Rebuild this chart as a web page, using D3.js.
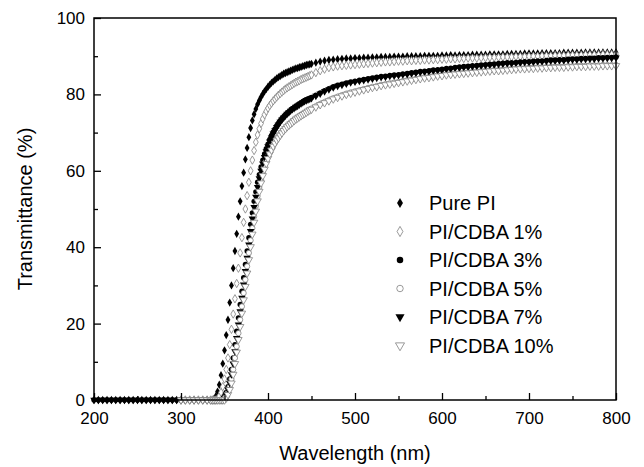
<!DOCTYPE html>
<html>
<head>
<meta charset="utf-8">
<script src="https://cdn.jsdelivr.net/npm/d3@7"></script>
<style>
  body { margin: 0; background: #fff; }
  text { font-family: "Liberation Sans", Arial, sans-serif; fill: #000; }
</style>
</head>
<body>
<svg id="chart" width="644" height="467"></svg>
<script>
// wavelength grids (nm)
const wlBase = d3.range(200, 331, 5);     // flat zero stretch, filled series
const wlBaseOpen = d3.range(300, 331, 5); // open series start at 300 nm
const wlRise = d3.range(334, 451, 2);     // absorption edge
const wlTail = d3.range(455, 801, 5);     // plateau

const baseFilled = [0, 0, 0, 0, 0, 0, 0, 0, 0, 0, 0, 0, 0, 0, 0, 0, 0, 0, 0, 0, 0, 0, 0, 0, 0, 0, 0];
const baseOpen = [0, 0, 0, 0, 0, 0, 0];

// transmittance (%)
const purePI = {
  rise: [0, 0, 0.3, 1, 2.2, 4, 6.5, 9.5, 13, 17,
    21, 25.5, 30, 34.5, 39, 43.5, 48, 52, 56, 59.5,
    63, 66, 68.8, 71.2, 73.2, 74.8, 76.2, 77.4, 78.4, 79.3,
    80.1, 80.8, 81.4, 82, 82.5, 83, 83.4, 83.8, 84.2, 84.5,
    84.8, 85.1, 85.4, 85.6, 85.8, 86, 86.2, 86.4, 86.6, 86.8,
    86.9, 87.1, 87.2, 87.4, 87.5, 87.7, 87.8, 87.9, 88],
  tail: [88.3, 88.6, 88.8, 89, 89.1, 89.2, 89.3, 89.4, 89.4, 89.5,
    89.5, 89.6, 89.6, 89.7, 89.7, 89.8, 89.8, 89.8, 89.9, 89.9,
    89.9, 90, 90, 90, 90, 90.1, 90.1, 90.1, 90.1, 90.2,
    90.2, 90.3, 90.2, 90.3, 90.3, 90.3, 90.4, 90.4, 90.4, 90.4,
    90.5, 90.5, 90.5, 90.5, 90.6, 90.6, 90.6, 90.6, 90.7, 90.7,
    90.7, 90.7, 90.8, 90.8, 90.8, 90.8, 90.8, 90.9, 90.9, 90.9,
    90.9, 90.9, 91, 91, 91, 91, 91, 91, 91, 91],
};
const cdba1 = {
  rise: [0, 0, 0, 0, 0.3, 1, 2, 3.5, 5.5, 8,
    11, 14.5, 18.5, 22.5, 26.5, 30.5, 34.5, 38.5, 42.5, 46.5,
    50, 53.5, 57, 60, 62.8, 65.3, 67.5, 69.4, 71, 72.4,
    73.6, 74.7, 75.6, 76.4, 77.1, 77.7, 78.3, 78.8, 79.3, 79.8,
    80.2, 80.6, 81, 81.4, 81.7, 82, 82.3, 82.6, 82.9, 83.2,
    83.4, 83.6, 83.9, 84.1, 84.3, 84.5, 84.7, 84.9, 85.1],
  tail: [85.7, 86.2, 86.6, 87, 87.2, 87.4, 87.5, 87.6, 87.7, 87.8,
    87.9, 88, 88.1, 88.2, 88.3, 88.4, 88.5, 88.5, 88.6, 88.7,
    88.7, 88.8, 88.8, 88.9, 88.9, 89, 89, 89.1, 89.1, 89.2,
    89.2, 89.3, 89.3, 89.4, 89.4, 89.5, 89.5, 89.5, 89.6, 89.6,
    89.7, 89.7, 89.7, 89.8, 89.8, 89.8, 89.9, 89.9, 89.9, 90,
    90, 90, 90.1, 90.1, 90.1, 90.2, 90.2, 90.2, 90.3, 90.3,
    90.3, 90.3, 90.4, 90.4, 90.4, 90.4, 90.5, 90.5, 90.5, 90.5],
};
const cdba3 = {
  rise: [0, 0, 0, 0, 0, 0, 0, 0.3, 1, 2,
    3.5, 5.5, 8, 11, 14.5, 18, 21.5, 25, 28.5, 32,
    35.5, 39, 42.5, 46, 49, 52, 54.5, 57, 59, 61,
    62.8, 64.4, 65.8, 67, 68.2, 69.3, 70.2, 71, 71.8, 72.5,
    73.1, 73.7, 74.2, 74.7, 75.1, 75.5, 75.9, 76.3, 76.6, 76.9,
    77.2, 77.5, 77.8, 78.1, 78.4, 78.6, 78.8, 79, 79.2],
  tail: [79.8, 80.4, 81, 81.5, 82, 82.4, 82.7, 83, 83.3, 83.5,
    83.7, 83.9, 84.1, 84.3, 84.5, 84.7, 84.8, 85, 85.1, 85.2,
    85.4, 85.5, 85.7, 85.8, 86, 86.1, 86.2, 86.4, 86.5, 86.6,
    86.8, 86.9, 87.1, 87.2, 87.3, 87.4, 87.5, 87.6, 87.7, 87.8,
    87.9, 88, 88.1, 88.2, 88.3, 88.3, 88.4, 88.5, 88.6, 88.6,
    88.7, 88.8, 88.8, 88.9, 89, 89, 89.1, 89.1, 89.2, 89.3,
    89.3, 89.4, 89.4, 89.5, 89.5, 89.6, 89.6, 89.7, 89.7, 89.8],
};
const cdba5 = {
  rise: [0, 0, 0, 0, 0, 0, 0, 0, 0.3, 1,
    2, 3.5, 5.5, 8, 11, 14, 17.5, 21, 24.5, 28,
    31.5, 35, 38.5, 41.8, 45, 48, 50.8, 53.4, 55.8, 57.8,
    59.6, 61.2, 62.6, 63.8, 64.9, 65.9, 66.8, 67.6, 68.3, 69,
    69.6, 70.2, 70.7, 71.2, 71.7, 72.1, 72.5, 72.9, 73.3, 73.6,
    73.9, 74.2, 74.5, 74.8, 75.1, 75.4, 75.7, 76, 76.3],
  tail: [76.9, 77.5, 78, 78.5, 79, 79.4, 79.8, 80.2, 80.5, 80.8,
    81.1, 81.4, 81.7, 82, 82.2, 82.5, 82.7, 82.9, 83.1, 83.3,
    83.5, 83.7, 83.9, 84.1, 84.3, 84.5, 84.6, 84.8, 85, 85.1,
    85.3, 85.4, 85.5, 85.6, 85.7, 85.8, 85.9, 86, 86.1, 86.2,
    86.3, 86.4, 86.4, 86.5, 86.6, 86.7, 86.8, 86.9, 86.9, 87,
    87, 87.1, 87.1, 87.2, 87.2, 87.3, 87.3, 87.3, 87.4, 87.4,
    87.5, 87.5, 87.5, 87.6, 87.6, 87.6, 87.7, 87.7, 87.7, 87.7],
};
const cdba7 = {
  rise: [0, 0, 0, 0, 0, 0, 0, 0, 0.5, 1.4,
    2.7, 4.4, 6.7, 9.5, 12.7, 16.2, 19.7, 23.2, 26.7, 30.2,
    33.7, 37.2, 40.7, 44.2, 47.5, 50.5, 53.2, 55.7, 58, 60,
    61.9, 63.6, 65.1, 66.4, 67.6, 68.7, 69.7, 70.6, 71.4, 72.1,
    72.8, 73.4, 73.9, 74.4, 74.9, 75.3, 75.7, 76.1, 76.4, 76.7,
    77, 77.3, 77.6, 77.9, 78.2, 78.4, 78.6, 78.8, 79],
  tail: [79.6, 80.2, 80.8, 81.3, 81.8, 82.2, 82.5, 82.8, 83.1, 83.3,
    83.5, 83.7, 83.9, 84.1, 84.3, 84.5, 84.6, 84.8, 84.9, 85,
    85.2, 85.3, 85.5, 85.6, 85.8, 85.9, 86, 86.2, 86.3, 86.4,
    86.6, 86.7, 86.9, 87, 87.1, 87.2, 87.3, 87.4, 87.5, 87.6,
    87.7, 87.8, 87.9, 88, 88.1, 88.1, 88.2, 88.3, 88.4, 88.4,
    88.5, 88.6, 88.6, 88.7, 88.8, 88.8, 88.9, 88.9, 89, 89.1,
    89.1, 89.2, 89.2, 89.3, 89.3, 89.4, 89.4, 89.5, 89.5, 89.6],
};
const cdba10 = {
  rise: [0, 0, 0, 0, 0, 0, 0, 0, 0, 0.5,
    1.4, 2.7, 4.4, 6.7, 9.5, 12.5, 15.8, 19.2, 22.7, 26.2,
    29.7, 33.2, 36.7, 40.1, 43.4, 46.5, 49.4, 52.1, 54.6, 56.8,
    58.7, 60.4, 61.9, 63.2, 64.4, 65.4, 66.4, 67.2, 68, 68.6,
    69.3, 69.9, 70.5, 71, 71.5, 71.9, 72.3, 72.7, 73.1, 73.5,
    73.8, 74.1, 74.4, 74.7, 75, 75.3, 75.6, 75.9, 76.1],
  tail: [76.7, 77.3, 77.8, 78.3, 78.8, 79.2, 79.6, 80, 80.3, 80.6,
    80.9, 81.2, 81.5, 81.8, 82, 82.3, 82.5, 82.7, 82.9, 83.1,
    83.3, 83.5, 83.7, 83.9, 84.1, 84.3, 84.4, 84.6, 84.8, 84.9,
    85.1, 85.2, 85.3, 85.4, 85.5, 85.6, 85.7, 85.8, 85.9, 86,
    86.1, 86.2, 86.2, 86.3, 86.4, 86.5, 86.6, 86.7, 86.7, 86.8,
    86.8, 86.9, 86.9, 87, 87, 87.1, 87.1, 87.1, 87.2, 87.2,
    87.3, 87.3, 87.3, 87.4, 87.4, 87.4, 87.5, 87.5, 87.5, 87.5],
};

const names = ["Pure PI", "PI/CDBA 1%", "PI/CDBA 3%", "PI/CDBA 5%", "PI/CDBA 7%", "PI/CDBA 10%"];
const xTicks = [200, 300, 400, 500, 600, 700, 800];
const yTicks = [0, 20, 40, 60, 80, 100];

const series = [
  { name: names[0], d: purePI, shape: d3.symbolDiamond, filled: true },
  { name: names[1], d: cdba1, shape: d3.symbolDiamond, filled: false },
  { name: names[2], d: cdba3, shape: d3.symbolCircle, filled: true },
  { name: names[3], d: cdba5, shape: d3.symbolCircle, filled: false },
  { name: names[4], d: cdba7, shape: d3.symbolTriangle, filled: true, flip: true },
  { name: names[5], d: cdba10, shape: d3.symbolTriangle, filled: false, flip: true },
];

function points(s) {
  const base = s.filled ? d3.zip(wlBase, baseFilled) : d3.zip(wlBaseOpen, baseOpen);
  return base.concat(d3.zip(wlRise, s.d.rise), d3.zip(wlTail, s.d.tail));
}

const margin = { left: 94, right: 28, top: 18, bottom: 67 };
const width = 644, height = 467;
const svg = d3.select("#chart");

const x = d3.scaleLinear().domain([200, 800]).range([margin.left, width - margin.right]);
const y = d3.scaleLinear().domain([0, 100]).range([height - margin.bottom, margin.top]);

const sizeOf = (shape) => (shape === d3.symbolCircle ? 22 : shape === d3.symbolDiamond ? 20 : 24);

function drawMarker(sel, s, scale) {
  sel.attr("d", d3.symbol().type(s.shape).size(sizeOf(s.shape) * scale)())
    .attr("fill", s.filled ? "#000" : "#fff")
    .attr("stroke", s.filled ? "none" : "#808080")
    .attr("stroke-width", 0.8);
}

const plot = svg.append("g");
series.forEach((s) => {
  plot.append("g")
    .selectAll("path")
    .data(points(s))
    .join("path")
    .call(drawMarker, s, 1)
    .attr("transform", (d) => `translate(${x(d[0])},${y(d[1])})${s.flip ? " rotate(180)" : ""}`);
});

// frame
svg.append("rect")
  .attr("x", margin.left).attr("y", margin.top)
  .attr("width", width - margin.left - margin.right)
  .attr("height", height - margin.top - margin.bottom)
  .attr("fill", "none").attr("stroke", "#000").attr("stroke-width", 1.5);

// axes, ticks pointing inward
const xAxis = d3.axisBottom(x).tickValues(xTicks).tickSize(-7).tickPadding(12).tickFormat(d3.format("d"));
const xMinor = d3.axisBottom(x).tickValues(d3.range(250, 800, 100)).tickSize(-4).tickFormat("");
const yAxis = d3.axisLeft(y).tickValues(yTicks).tickSize(-7).tickPadding(9);
const yMinor = d3.axisLeft(y).tickValues(d3.range(10, 100, 20)).tickSize(-4).tickFormat("");

function styleAxis(g) {
  g.select(".domain").remove();
  g.selectAll(".tick line").attr("stroke", "#000").attr("stroke-width", 1.3);
  g.selectAll(".tick text").attr("font-size", 17).attr("font-family", "Liberation Sans, Arial, sans-serif").attr("fill", "#000");
}

svg.append("g").attr("transform", `translate(0,${y(0)})`).call(xAxis).call(styleAxis);
svg.append("g").attr("transform", `translate(0,${y(0)})`).call(xMinor).call(styleAxis);
svg.append("g").attr("transform", `translate(${x(200)},0)`).call(yAxis).call(styleAxis);
svg.append("g").attr("transform", `translate(${x(200)},0)`).call(yMinor).call(styleAxis);

// titles
svg.append("text")
  .attr("x", (x(200) + x(800)) / 2).attr("y", 460)
  .attr("text-anchor", "middle").attr("font-size", 20)
  .text("Wavelength (nm)");
svg.append("text")
  .attr("transform", `translate(32,${(y(0) + y(100)) / 2}) rotate(-90)`)
  .attr("text-anchor", "middle").attr("font-size", 20)
  .text("Transmittance (%)");

// legend
const legend = svg.append("g").attr("transform", "translate(400,203)");
series.forEach((s, i) => {
  const row = legend.append("g").attr("transform", `translate(0,${i * 28.5})`);
  row.append("path").call(drawMarker, s, 1.5)
    .attr("transform", s.flip ? "rotate(180)" : null);
  row.append("text").attr("x", 29).attr("y", 7).attr("font-size", 20).text(s.name);
});
</script>
</body>
</html>
